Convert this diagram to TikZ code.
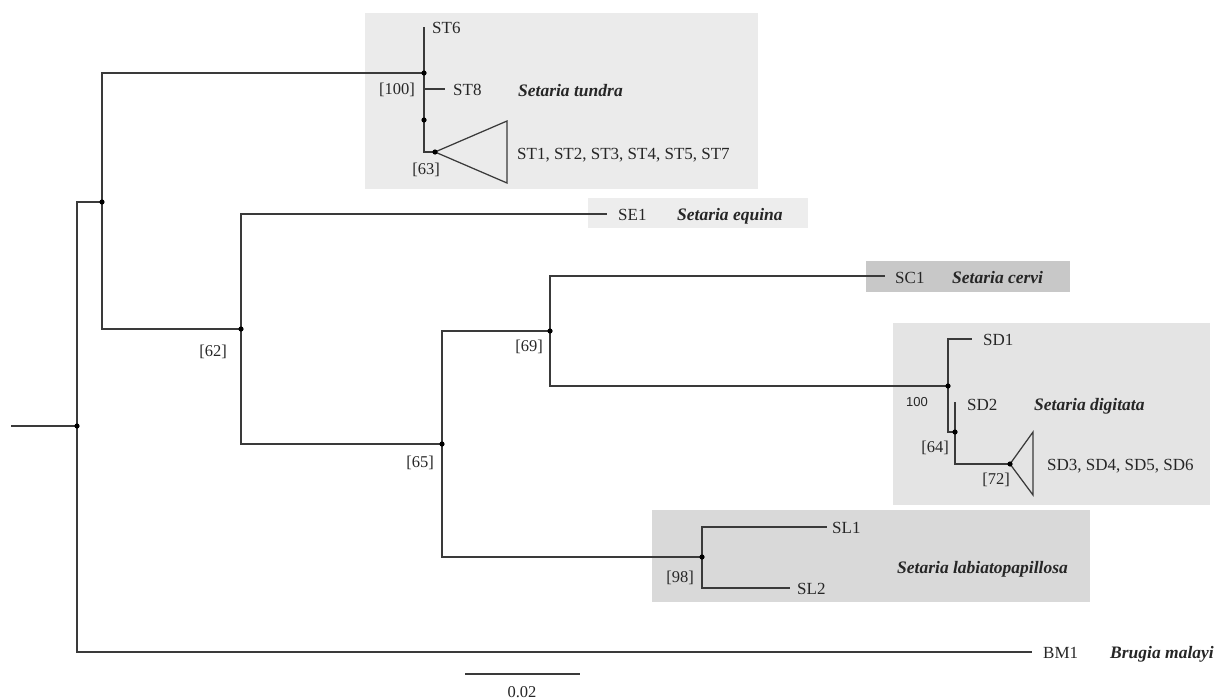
\documentclass[tikz,border=0pt]{standalone}
\usepackage{fontspec}
\setmainfont{Liberation Serif}
\newfontfamily\sansf{Liberation Sans}
\definecolor{lc}{HTML}{3A3A3A}
\definecolor{tc}{HTML}{262626}
\definecolor{boxA}{HTML}{EBEBEB}
\definecolor{boxB}{HTML}{EDEDED}
\definecolor{boxC}{HTML}{C8C8C8}
\definecolor{boxD}{HTML}{E4E4E4}
\definecolor{boxE}{HTML}{D9D9D9}
\begin{document}
\begin{tikzpicture}[x=1pt,y=-1pt,
  br/.style={draw=lc, line width=1.25pt},
  lbl/.style={inner sep=0pt, anchor=base west, text=tc, font=\fontsize{17}{20}\selectfont},
  spc/.style={lbl, font=\fontsize{17.5}{20}\selectfont\bfseries\itshape},
  bsup/.style={inner sep=0pt, text=tc, font=\fontsize{16.5}{20}\selectfont},
  ssup/.style={inner sep=0pt, text=tc, font=\fontsize{13}{16}\sansf},
  clade/.style={draw=none}
]
\useasboundingbox (0,0) rectangle (1220,699);

% shaded clade boxes
\fill[boxA] (365,13) rectangle (758,189);
\fill[boxB] (588,198) rectangle (808,228);
\fill[boxC] (866,261) rectangle (1070,292);
\fill[boxD] (893,323) rectangle (1210,505);
\fill[boxE] (652,510) rectangle (1090,602);

% internal nodes
\coordinate (R) at (77,426);
\coordinate (A) at (102,202);
\coordinate (ST) at (424,73);
\coordinate (ST2) at (424,120);
\coordinate (ST63) at (435,152);
\coordinate (B) at (241,329);
\coordinate (C) at (442,444);
\coordinate (D) at (550,331);
\coordinate (SD) at (948,386);
\coordinate (SD64) at (955,432);
\coordinate (SD72) at (1010,464);
\coordinate (SL) at (702,557);

% leaf ends
\coordinate (root0) at (11,426);
\coordinate (bm1e) at (1032,652);
\coordinate (st6e) at (424,27);
\coordinate (st8b) at (424,89);
\coordinate (st8e) at (445,89);
\coordinate (stT1) at (507,121);
\coordinate (stT2) at (507,183);
\coordinate (se1e) at (607,214);
\coordinate (sc1e) at (885,276);
\coordinate (sd1e) at (972,339);
\coordinate (sd2e) at (955,402);
\coordinate (sdT1) at (1033,432);
\coordinate (sdT2) at (1033,495);
\coordinate (sl1e) at (827,527);
\coordinate (sl2e) at (790,588);
\coordinate (sbL) at (465,674);
\coordinate (sbR) at (580,674);

% branches
\draw[br] (root0) -- (R);
\draw[br] (R) |- (A);
\draw[br] (R) |- (bm1e);
\draw[br] (A) |- (ST);
\draw[br] (A) |- (B);
\draw[br] (st6e) -- (ST) -- (ST2) |- (ST63);
\draw[br] (st8b) -- (st8e);
\draw[br] (ST63) -- (stT1) -- (stT2) -- cycle;
\draw[br] (B) |- (se1e);
\draw[br] (B) |- (C);
\draw[br] (C) |- (D);
\draw[br] (C) |- (SL);
\draw[br] (D) |- (sc1e);
\draw[br] (D) |- (SD);
\draw[br] (SD) |- (sd1e);
\draw[br] (SD) |- (SD64);
\draw[br] (SD64) -- (sd2e);
\draw[br] (SD64) |- (SD72);
\draw[br] (SD72) -- (sdT1) -- (sdT2) -- cycle;
\draw[br] (SL) |- (sl1e);
\draw[br] (SL) |- (sl2e);
\draw[br] (sbL) -- (sbR);

% node dots
\foreach \p in {R,A,ST,ST2,ST63,B,C,D,SD,SD64,SD72,SL}
  \fill[black] (\p) circle (2.6);

% leaf labels
\node[lbl] (st6) at (432,33) {ST6};
\node[lbl] (st8) at (453,95) {ST8};
\node[lbl] (st1) at (517,159) {ST1, ST2, ST3, ST4, ST5, ST7};
\node[spc] (stsp) at (518,96) {Setaria tundra};
\node[lbl] (se1) at (618,220) {SE1};
\node[spc] (sesp) at (677,220) {Setaria equina};
\node[lbl] (sc1) at (895,283) {SC1};
\node[spc] (scsp) at (952,283) {Setaria cervi};
\node[lbl] (sd1) at (983,345) {SD1};
\node[lbl] (sd2) at (967,410) {SD2};
\node[spc] (sdsp) at (1034,410) {Setaria digitata};
\node[lbl] (sd3) at (1047,470) {SD3, SD4, SD5, SD6};
\node[lbl] (sl1) at (832,533) {SL1};
\node[lbl] (sl2) at (797,594) {SL2};
\node[spc] (slsp) at (897,573) {Setaria labiatopapillosa};
\node[lbl] (bm1) at (1043,658) {BM1};
\node[spc] (bmsp) at (1110,658) {Brugia malayi};

% support values
\node[bsup] (s100) at (397,90) {[100]};
\node[bsup] (s63) at (426,170) {[63]};
\node[bsup] (s62) at (213,352) {[62]};
\node[bsup] (s65) at (420,463) {[65]};
\node[bsup] (s69) at (529,347) {[69]};
\node[ssup] (s100b) at (917,402) {100};
\node[bsup] (s64) at (935,448) {[64]};
\node[bsup] (s72) at (996,480) {[72]};
\node[bsup] (s98) at (680,578) {[98]};

% scale
\node[bsup] (scale) at (522,692) {0.02};
\end{tikzpicture}
\end{document}
